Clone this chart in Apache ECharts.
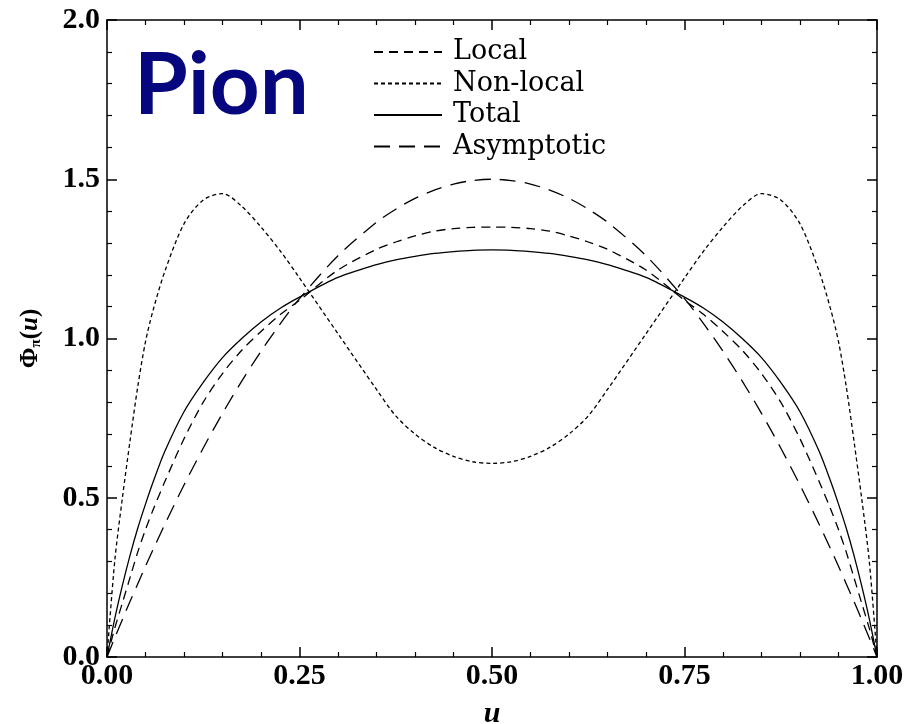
<!DOCTYPE html>
<html>
<head>
<meta charset="utf-8">
<script src="https://cdn.jsdelivr.net/npm/echarts@6/dist/echarts.min.js"></script>
<style>html,body{margin:0;padding:0;background:#fff;}#c{width:906px;height:724px;}</style>
</head>
<body>
<div id="c"></div>
<script>
var uValues = [0,0.01,0.02,0.03,0.04,0.05,0.06,0.075,0.1,0.125,0.15,0.175,0.2,0.225,0.25,0.3,0.35,0.375,0.4,0.425,0.45,0.475,0.5,0.525,0.55,0.575,0.6,0.625,0.65,0.7,0.75,0.775,0.8,0.825,0.85,0.875,0.9,0.925,0.94,0.95,0.96,0.97,0.98,0.99,1];
var localVals = [0,0.09,0.17,0.25,0.33,0.40,0.463,0.55,0.685,0.80,0.89,0.963,1.022,1.075,1.12,1.215,1.28,1.303,1.322,1.337,1.345,1.349,1.35,1.349,1.345,1.337,1.322,1.303,1.28,1.215,1.12,1.075,1.022,0.963,0.89,0.80,0.685,0.55,0.463,0.40,0.33,0.25,0.17,0.09,0];
var nonLocalVals = [0,0.30,0.50,0.68,0.85,0.99,1.09,1.21,1.36,1.435,1.455,1.415,1.35,1.275,1.19,1.015,0.84,0.757,0.70,0.658,0.63,0.613,0.608,0.613,0.63,0.658,0.70,0.757,0.84,1.015,1.19,1.275,1.35,1.415,1.455,1.435,1.36,1.21,1.09,0.99,0.85,0.68,0.50,0.30,0];
var totalVals = [0,0.12,0.225,0.32,0.405,0.48,0.55,0.645,0.77,0.862,0.94,1.0,1.052,1.095,1.13,1.192,1.232,1.247,1.258,1.267,1.273,1.277,1.278,1.277,1.273,1.267,1.258,1.247,1.232,1.192,1.13,1.095,1.052,1.0,0.94,0.862,0.77,0.645,0.55,0.48,0.405,0.32,0.225,0.12,0];
var asymVals = [0,0.06,0.118,0.175,0.23,0.285,0.338,0.416,0.54,0.656,0.765,0.866,0.96,1.046,1.125,1.26,1.365,1.406,1.44,1.466,1.485,1.496,1.5,1.496,1.485,1.466,1.44,1.406,1.365,1.26,1.125,1.046,0.96,0.866,0.765,0.656,0.54,0.416,0.338,0.285,0.23,0.175,0.118,0.06,0];
var seriesNames = ['Local','Non-local','Total','Asymptotic'];
var xTicks = ['0.00','0.25','0.50','0.75','1.00'];
var yTicks = ['0.0','0.5','1.0','1.5','2.0'];

function pairs(vals){ return uValues.map(function(u,i){ return [u, vals[i]]; }); }

var serif = 'Liberation Serif';
var legFont = 'DejaVu Serif';
var chart = echarts.init(document.getElementById('c'), null, {renderer:'canvas'});
function mkLine(name, vals, dash){
  return {
    name: name, type: 'line', data: pairs(vals), smooth: 0.3, symbol: 'none', showSymbol: false,
    xAxisIndex: 0, yAxisIndex: 0,
    lineStyle: {color: '#000', width: 1.3, type: dash},
    itemStyle: {color: '#000'}, silent: true, animation: false
  };
}
function axisCommon(extra){
  var o = {
    axisLine: {onZero: false, lineStyle: {color: '#000', width: 1.5}},
    axisTick: {inside: true, length: 10, lineStyle: {color:'#000', width:1.5}},
    minorTick: {show: true, splitNumber: 5, length: 5, lineStyle: {color:'#000', width:1.2}},
    splitLine: {show: false}, minorSplitLine: {show: false}
  };
  for (var k in extra) o[k] = extra[k];
  return o;
}
chart.setOption({
  animation: false,
  backgroundColor: '#fff',
  title: {
    text: 'Pion', left: 129, top: 37,
    textStyle: {color: '#06067f', fontFamily: 'Lato', fontWeight: 'bold', fontSize: 87}
  },
  legend: {
    orient: 'vertical', left: 373, top: 38, itemGap: 3.5, padding: 0,
    itemWidth: 68, itemHeight: 14,
    data: seriesNames,
    itemStyle: {opacity: 0},
    textStyle: {fontFamily: legFont, fontSize: 27, lineHeight: 28, color: '#000', padding: [0,0,0,6]}
  },
  grid: {left: 107, right: 29, top: 20, bottom: 67, containLabel: false, outerBoundsMode: 'none'},
  xAxis: [axisCommon({
    type: 'value', min: 0, max: 1, interval: 0.25, position: 'bottom',
    name: 'u', nameLocation: 'middle', nameGap: 42,
    nameTextStyle: {fontFamily: serif, fontStyle: 'italic', fontWeight: 'bold', fontSize: 30, color: '#000'},
    axisLabel: {formatter: function(v){ return xTicks[Math.round(v*4)]; }, fontFamily: serif, fontWeight: 'bold', fontSize: 30, color: '#000', margin: 4}
  }), axisCommon({
    type: 'value', min: 0, max: 1, interval: 0.25, position: 'top',
    axisLabel: {show: false}
  })],
  yAxis: [axisCommon({
    type: 'value', min: 0, max: 2, interval: 0.5, position: 'left',
    name: 'Φ{s|π}({i|u})', nameLocation: 'middle', nameGap: 63, nameRotate: 90,
    nameTextStyle: {fontFamily: serif, fontWeight: 'bold', fontSize: 25, color: '#000',
      rich: {s: {fontFamily: serif, fontSize: 15, fontWeight: 'bold', padding: [12,0,0,0]},
             i: {fontFamily: serif, fontSize: 25, fontWeight: 'bold', fontStyle: 'italic'}}},
    axisLabel: {formatter: function(v){ return yTicks[Math.round(v*2)]; }, fontFamily: serif, fontWeight: 'bold', fontSize: 30, color: '#000', margin: 7}
  }), axisCommon({
    type: 'value', min: 0, max: 2, interval: 0.5, position: 'right',
    axisLabel: {show: false}
  })],
  series: [
    mkLine('Local', localVals, [9,6]),
    mkLine('Non-local', nonLocalVals, [4,3]),
    mkLine('Total', totalVals, 'solid'),
    mkLine('Asymptotic', asymVals, [16,9])
  ]
});
</script>
</body>
</html>
